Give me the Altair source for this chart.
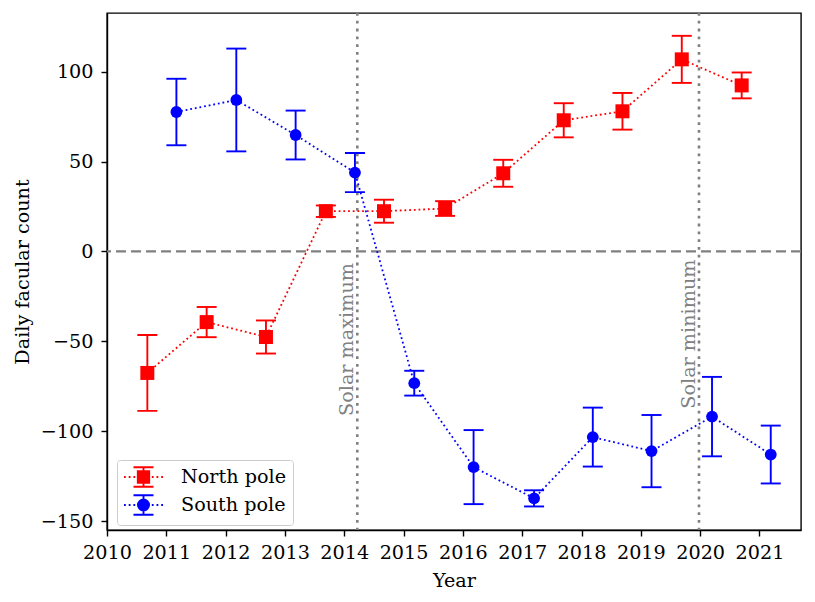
import altair as alt
import pandas as pd

# ---------------- data ----------------
north_year = [2010.68, 2011.68, 2012.68, 2013.69, 2014.67, 2015.70,
              2016.68, 2017.70, 2018.69, 2019.69, 2020.70]
north_value = [-67.6, -39.3, -47.6, 22.4, 22.4, 23.9, 43.5, 73.0, 78.0, 106.9, 92.4]
north_err = [21.1, 8.4, 9.2, 3.2, 6.4, 4.1, 7.5, 9.5, 10.2, 13.1, 7.2]

south_year = [2011.17, 2012.18, 2013.18, 2014.18, 2015.18, 2016.18,
              2017.20, 2018.19, 2019.18, 2020.20, 2021.19]
south_value = [77.6, 84.3, 64.8, 43.9, -73.3, -120.0, -137.4, -103.3, -111.1, -91.9, -113.0]
south_err = [18.5, 28.6, 13.6, 10.9, 6.9, 20.6, 4.5, 16.4, 20.1, 22.1, 16.1]

series_names = ["North pole", "South pole"]
series_colors = ["#ff0000", "#0000ff"]

event_names = ["Solar maximum", "Solar minimum"]
event_year = [2014.22, 2019.98]
event_label_y = [-49, -46]

x_ticks = list(range(2010, 2022))
y_ticks = [-150, -100, -50, 0, 50, 100]
x_domain = [2010, 2021.70]
y_domain = [-155, 132.7]

FONT = "DejaVu Serif"
FS = 19.2
GRAY = "#808080"


def series_frame(years, values, errs, name):
    return pd.DataFrame({
        "year": years,
        "value": values,
        "lo": [v - e for v, e in zip(values, errs)],
        "hi": [v + e for v, e in zip(values, errs)],
        "series": name,
    })


north = series_frame(north_year, north_value, north_err, series_names[0])
south = series_frame(south_year, south_value, south_err, series_names[1])
events = pd.DataFrame({"year": event_year, "label": event_names, "value": event_label_y})
zero = pd.DataFrame({"value": [0]})
legend_df = pd.DataFrame({"series": series_names})

X = alt.X("year:Q", scale=alt.Scale(domain=x_domain, nice=False, zero=False),
          axis=alt.Axis(values=x_ticks, format="d", title="Year", titleY=41,
                        labelOverlap=False, labelFlush=False))
Y = alt.Y("value:Q", scale=alt.Scale(domain=y_domain, nice=False, zero=False),
          axis=alt.Axis(values=y_ticks, title="Daily facular count", titleX=-75,
                        labelOverlap=False, labelFlush=False))


def series_layers(df, color, shape, size):
    base = alt.Chart(df)
    line = base.mark_line(color=color, strokeWidth=1.8, strokeDash=[1.8, 2.9]).encode(x=X, y=Y)
    bar = base.mark_rule(color=color, strokeWidth=1.9).encode(
        x=X, y=alt.Y("lo:Q"), y2=alt.Y2("hi:Q"))
    cap_lo = base.mark_tick(orient="horizontal", color=color, size=20, thickness=1.9,
                            opacity=1).encode(x=X, y=alt.Y("lo:Q"))
    cap_hi = base.mark_tick(orient="horizontal", color=color, size=20, thickness=1.9,
                            opacity=1).encode(x=X, y=alt.Y("hi:Q"))
    pts = base.mark_point(shape=shape, filled=True, size=size, color=color,
                          opacity=1).encode(x=X, y=Y)
    return [line, bar, cap_lo, cap_hi, pts]


# ------------- legend symbols (custom paths: dotted line + error bar + marker) -------------
# unit = 10 px (symbol size 400); the symbol is drawn from x=-1 to x=2.9 units
def fmt(v):
    return f"{v:.3f}"


U = 10.0
SHIFT = 0.95          # marker centre, units right of the nominal symbol centre
HALF = 1.95           # half length of the legend line, units
dot_w, dot_gap = 1.8 / U, 2.9 / U
dots = []
p = -HALF
while p < -0.4:
    dots.append(f"M{fmt(SHIFT + p)},0L{fmt(SHIFT + p + dot_w)},0")
    dots.append(f"M{fmt(SHIFT - p - dot_w)},0L{fmt(SHIFT - p)},0")
    p += dot_w + dot_gap
eb_h, cap_w = 9.7 / U, 10.0 / U
ebar = (f"M{fmt(SHIFT)},{fmt(-eb_h)}L{fmt(SHIFT)},{fmt(eb_h)}"
        f"M{fmt(SHIFT - cap_w)},{fmt(-eb_h)}L{fmt(SHIFT + cap_w)},{fmt(-eb_h)}"
        f"M{fmt(SHIFT - cap_w)},{fmt(eb_h)}L{fmt(SHIFT + cap_w)},{fmt(eb_h)}")
sq = 5.7 / U
square = (f"M{fmt(SHIFT - sq)},{fmt(-sq)}L{fmt(SHIFT + sq)},{fmt(-sq)}"
          f"L{fmt(SHIFT + sq)},{fmt(sq)}L{fmt(SHIFT - sq)},{fmt(sq)}Z")
r = 5.55 / U
circle = (f"M{fmt(SHIFT - r)},0A{fmt(r)},{fmt(r)} 0 1,0 {fmt(SHIFT + r)},0"
          f"A{fmt(r)},{fmt(r)} 0 1,0 {fmt(SHIFT - r)},0Z")
north_symbol = "".join(dots) + ebar + square
south_symbol = "".join(dots) + ebar + circle

legend_layer = alt.Chart(legend_df).mark_point(size=400, strokeWidth=1.9, opacity=1).encode(
    fill=alt.Fill("series:N", scale=alt.Scale(domain=series_names, range=series_colors),
                  legend=alt.Legend(title=None)),
    stroke=alt.Stroke("series:N", scale=alt.Scale(domain=series_names, range=series_colors),
                      legend=alt.Legend(title=None)),
    shape=alt.Shape("series:N", scale=alt.Scale(domain=series_names,
                                                range=[north_symbol, south_symbol]),
                    legend=alt.Legend(title=None)),
).transform_filter("false")

# ------------- reference lines -------------
zero_line = alt.Chart(zero).mark_rule(color=GRAY, strokeWidth=2.2, strokeDash=[10, 5]).encode(y=Y)
event_lines = alt.Chart(events).mark_rule(color=GRAY, strokeWidth=2.6,
                                          strokeDash=[2.8, 5]).encode(x=X)
event_text = alt.Chart(events).mark_text(angle=270, align="center", baseline="alphabetic",
                                         dy=-4, color=GRAY, font=FONT, fontSize=FS).encode(
    x=X, y=Y, text="label:N")

layers = [zero_line, event_lines, event_text]
layers += series_layers(north, series_colors[0], "square", 196)
layers += series_layers(south, series_colors[1], "circle", 139)
layers.append(legend_layer)

chart = alt.layer(*layers).properties(
    width=694, height=517,
    autosize=alt.AutoSizeParams(type="none"),
    padding={"left": 99, "top": 5, "right": 4, "bottom": 62},
).configure(
    font=FONT,
).configure_view(
    stroke="black", strokeWidth=1.4,
).configure_axis(
    grid=False,
    domainColor="black", domainWidth=1.4,
    tickColor="black", tickWidth=1.4, tickSize=6,
    labelFont=FONT, labelFontSize=FS, labelColor="black",
    titleFont=FONT, titleFontSize=FS, titleFontWeight="normal", titleColor="black",
).configure_axisX(
    labelPadding=7,
).configure_axisY(
    labelPadding=8,
).configure_legend(
    orient="none", legendX=10, legendY=447,
    padding=6, cornerRadius=3,
    strokeColor="#cccccc", fillColor="rgba(255,255,255,0.8)",
    labelFont=FONT, labelFontSize=FS, labelColor="black",
    labelOffset=36, rowPadding=0, symbolStrokeWidth=1.9, symbolSize=400,
)

chart.save("out.html", embed_options={"renderer": "svg", "actions": False})
